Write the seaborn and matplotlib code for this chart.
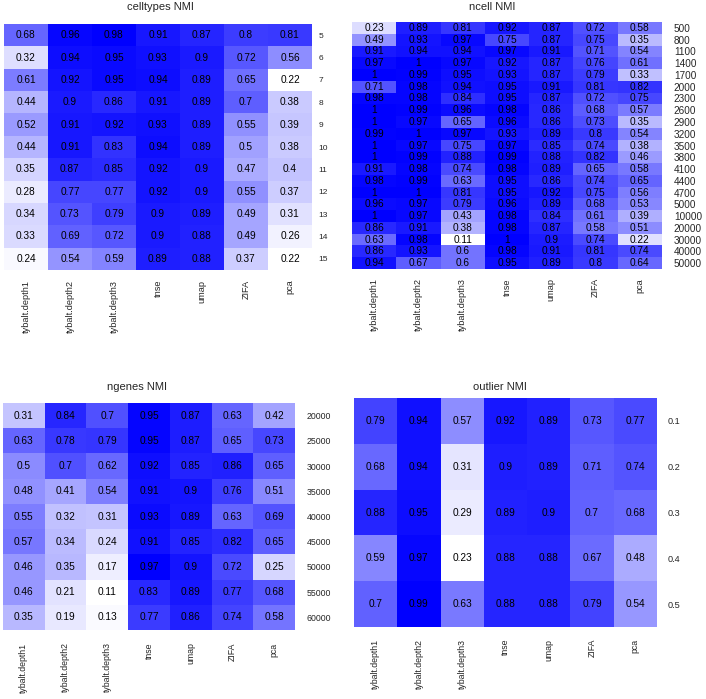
import numpy as np
import pandas as pd
import matplotlib
matplotlib.use("Agg")
import matplotlib.pyplot as plt
import seaborn as sns
from matplotlib.colors import LinearSegmentedColormap

methods = ["tybalt.depth1", "tybalt.depth2", "tybalt.depth3", "tnse", "umap", "ZIFA", "pca"]

celltypes_rows = ["5", "6", "7", "8", "9", "10", "11", "12", "13", "14", "15"]
celltypes_vals = [
    [0.68, 0.96, 0.98, 0.91, 0.87, 0.8, 0.81],
    [0.32, 0.94, 0.95, 0.93, 0.9, 0.72, 0.56],
    [0.61, 0.92, 0.95, 0.94, 0.89, 0.65, 0.22],
    [0.44, 0.9, 0.86, 0.91, 0.89, 0.7, 0.38],
    [0.52, 0.91, 0.92, 0.93, 0.89, 0.55, 0.39],
    [0.44, 0.91, 0.83, 0.94, 0.89, 0.5, 0.38],
    [0.35, 0.87, 0.85, 0.92, 0.9, 0.47, 0.4],
    [0.28, 0.77, 0.77, 0.92, 0.9, 0.55, 0.37],
    [0.34, 0.73, 0.79, 0.9, 0.89, 0.49, 0.31],
    [0.33, 0.69, 0.72, 0.9, 0.88, 0.49, 0.26],
    [0.24, 0.54, 0.59, 0.89, 0.88, 0.37, 0.22],
]

ncell_rows = ["500", "800", "1100", "1400", "1700", "2000", "2300", "2600", "2900", "3200",
              "3500", "3800", "4100", "4400", "4700", "5000", "10000", "20000", "30000",
              "40000", "50000"]
ncell_vals = [
    [0.23, 0.89, 0.81, 0.92, 0.87, 0.72, 0.58],
    [0.49, 0.93, 0.97, 0.75, 0.87, 0.75, 0.35],
    [0.91, 0.94, 0.94, 0.97, 0.91, 0.71, 0.54],
    [0.97, 1, 0.97, 0.92, 0.87, 0.76, 0.61],
    [1, 0.99, 0.95, 0.93, 0.87, 0.79, 0.33],
    [0.71, 0.98, 0.94, 0.95, 0.91, 0.81, 0.82],
    [0.98, 0.98, 0.84, 0.95, 0.87, 0.72, 0.75],
    [1, 0.99, 0.96, 0.98, 0.86, 0.68, 0.57],
    [1, 0.97, 0.65, 0.96, 0.86, 0.73, 0.35],
    [0.99, 1, 0.97, 0.93, 0.89, 0.8, 0.54],
    [1, 0.97, 0.75, 0.97, 0.85, 0.74, 0.38],
    [1, 0.99, 0.88, 0.99, 0.88, 0.82, 0.46],
    [0.91, 0.98, 0.74, 0.98, 0.89, 0.65, 0.58],
    [0.98, 0.99, 0.63, 0.95, 0.86, 0.74, 0.65],
    [1, 1, 0.81, 0.95, 0.92, 0.75, 0.56],
    [0.96, 0.97, 0.79, 0.96, 0.89, 0.68, 0.53],
    [1, 0.97, 0.43, 0.98, 0.84, 0.61, 0.39],
    [0.86, 0.91, 0.38, 0.98, 0.87, 0.58, 0.51],
    [0.63, 0.98, 0.11, 1, 0.9, 0.74, 0.22],
    [0.86, 0.93, 0.6, 0.98, 0.91, 0.81, 0.74],
    [0.94, 0.67, 0.6, 0.95, 0.89, 0.8, 0.64],
]

ngenes_rows = ["20000", "25000", "30000", "35000", "40000", "45000", "50000", "55000", "60000"]
ngenes_vals = [
    [0.31, 0.84, 0.7, 0.95, 0.87, 0.63, 0.42],
    [0.63, 0.78, 0.79, 0.95, 0.87, 0.65, 0.73],
    [0.5, 0.7, 0.62, 0.92, 0.85, 0.86, 0.65],
    [0.48, 0.41, 0.54, 0.91, 0.9, 0.76, 0.51],
    [0.55, 0.32, 0.31, 0.93, 0.89, 0.63, 0.69],
    [0.57, 0.34, 0.24, 0.91, 0.85, 0.82, 0.65],
    [0.46, 0.35, 0.17, 0.97, 0.9, 0.72, 0.25],
    [0.46, 0.21, 0.11, 0.83, 0.89, 0.77, 0.68],
    [0.35, 0.19, 0.13, 0.77, 0.86, 0.74, 0.58],
]

outlier_rows = ["0.1", "0.2", "0.3", "0.4", "0.5"]
outlier_vals = [
    [0.79, 0.94, 0.57, 0.92, 0.89, 0.73, 0.77],
    [0.68, 0.94, 0.31, 0.9, 0.89, 0.71, 0.74],
    [0.88, 0.95, 0.29, 0.89, 0.9, 0.7, 0.68],
    [0.59, 0.97, 0.23, 0.88, 0.88, 0.67, 0.48],
    [0.7, 0.99, 0.63, 0.88, 0.88, 0.79, 0.54],
]

sns.set_style("white")
plt.rcParams["font.family"] = ["Liberation Sans", "DejaVu Sans"]

W, H = 706, 699
fig = plt.figure(figsize=(W / 100, H / 100), dpi=100)
cmap = LinearSegmentedColormap.from_list("wb", ["#FFFFFF", "#0000FF"])


def fmt(v):
    return f"{v:g}"


def panel(title, rows, vals, box, title_xy, ylab_pad, xlab_pad, ylab_fs, xlab_fs, annot_fs=7.3):
    x0, y0, x1, y1 = box
    ax = fig.add_axes([x0 / W, 1 - y1 / H, (x1 - x0) / W, (y1 - y0) / H])
    df = pd.DataFrame(vals, index=rows, columns=methods)
    labels = np.vectorize(fmt)(df.values)
    sns.heatmap(df, ax=ax, cmap=cmap, vmin=df.values.min(), vmax=df.values.max(),
                annot=labels, fmt="", cbar=False,
                annot_kws={"color": "black", "fontsize": annot_fs},
                xticklabels=methods, yticklabels=rows)
    ax.yaxis.tick_right()
    ax.tick_params(axis="y", length=0, pad=ylab_pad, labelrotation=0, labelsize=ylab_fs)
    ax.tick_params(axis="x", length=0, pad=xlab_pad, labelrotation=90, labelsize=xlab_fs)
    for t in ax.get_yticklabels():
        t.set_ha("left")
    for t in ax.get_xticklabels():
        t.set_va("top")
    ax.set_xlabel("")
    ax.set_ylabel("")
    fig.text(title_xy[0] / W, 1 - title_xy[1] / H, title, ha="center", va="center", fontsize=8)
    return ax


panel("celltypes NMI", celltypes_rows, celltypes_vals, (4, 24, 312, 270), (160, 7), 4.5, 7, 6, 6.6)
panel("ncell NMI", ncell_rows, ncell_vals, (352, 22, 662, 269), (492, 7), 8.5, 6.5, 7.2, 6.6)
panel("ngenes NMI", ngenes_rows, ngenes_vals, (3, 403, 295, 630), (137, 387), 8.5, 9, 6.3, 6.3)
panel("outlier NMI", outlier_rows, outlier_vals, (354, 398, 657, 627), (500, 387), 8, 8.5, 6.6, 6.3)

fig.savefig("out.png", dpi=100)
